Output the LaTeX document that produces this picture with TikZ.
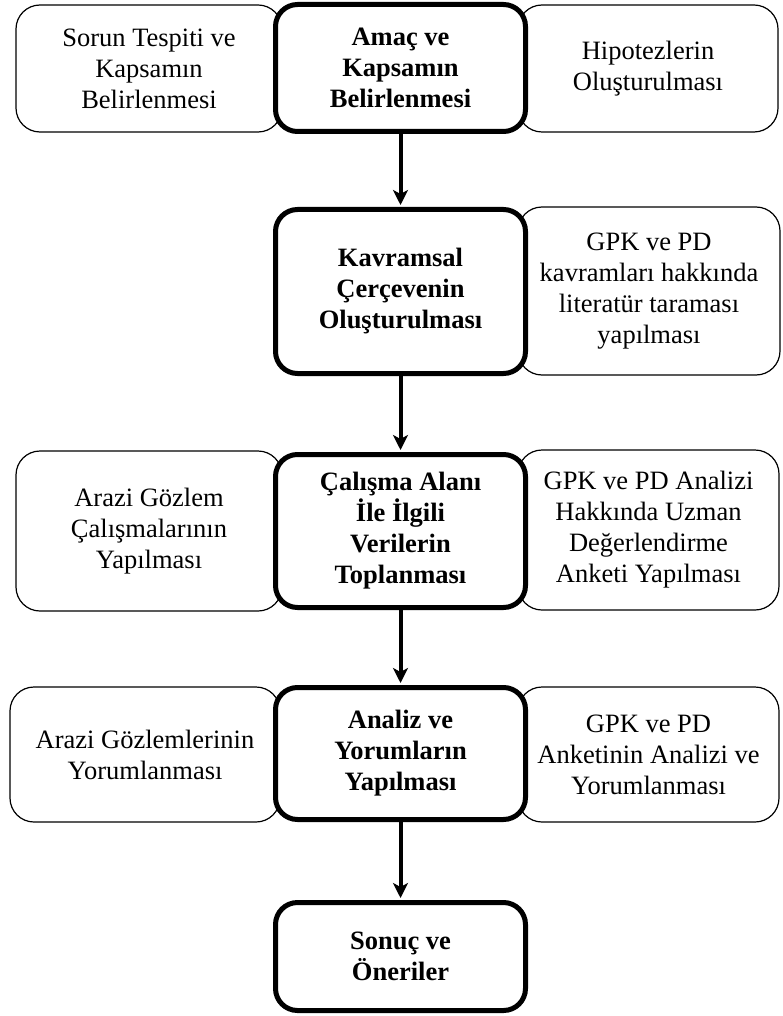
\documentclass[tikz,border=0pt]{standalone}
\usepackage{fontspec}
\setmainfont{Liberation Serif}
\usetikzlibrary{arrows.meta}

\begin{document}
\begin{tikzpicture}[x=0.5pt, y=-0.5pt,
    sidebox/.style={draw, line width=0.6pt, rounded corners=12pt, align=center, inner sep=0pt,
      font=\fontsize{13.25}{15.5}\selectfont},
    mainbox/.style={draw, line width=2.5pt, rounded corners=11pt, fill=white, align=center, inner sep=0pt,
      minimum width=125pt, font=\fontsize{13.25}{15.5}\selectfont\bfseries},
    flow/.style={-{Stealth[length=7.5pt, width=7.5pt, inset=2pt]}, line width=2pt, shorten >=1pt}]
  \useasboundingbox (0, 0) rectangle (782, 1016);

  \node[sidebox, minimum width=133pt, minimum height=63.5pt] (sorun) at (149, 68.5) {Sorun Tespiti ve\\Kapsamın\\Belirlenmesi};
  \node[sidebox, minimum width=130pt, minimum height=63.5pt] (hipotez) at (648, 68.5) {Hipotezlerin\\Oluşturulması};
  \node[sidebox, minimum width=131pt, minimum height=84pt] (literatur) at (649, 291) {GPK ve PD\\kavramları hakkında\\literatür taraması\\yapılması};
  \node[sidebox, minimum width=133pt, minimum height=80pt] (gozlem) at (149, 531) {Arazi Gözlem\\Çalışmalarının\\Yapılması};
  \node[sidebox, minimum width=130.5pt, minimum height=80pt] (anket) at (648.5, 530) {GPK ve PD Analizi\\Hakkında Uzman\\Değerlendirme\\Anketi Yapılması};
  \node[sidebox, minimum width=135pt, minimum height=67.5pt] (gozlemyorum) at (145, 754.5) {Arazi Gözlemlerinin\\Yorumlanması};
  \node[sidebox, minimum width=130.5pt, minimum height=67.5pt] (anketyorum) at (648.5, 754.5) {GPK ve PD\\Anketinin Analizi ve\\Yorumlanması};

  \node[mainbox, minimum height=63.5pt] (amac) at (400.5, 68) {Amaç ve\\Kapsamın\\Belirlenmesi};
  \node[mainbox, minimum height=82pt] (kavram) at (400.5, 291.5) {Kavramsal\\Çerçevenin\\Oluşturulması};
  \node[mainbox, minimum height=76.5pt] (veri) at (400.5, 531) {Çalışma Alanı\\İle İlgili\\Verilerin\\Toplanması};
  \node[mainbox, minimum height=66pt] (analiz) at (400.5, 753.5) {Analiz ve\\Yorumların\\Yapılması};
  \node[mainbox, minimum height=54pt] (sonuc) at (400.5, 956.5) {Sonuç ve\\Öneriler};

  \draw[flow] (amac) -- (kavram);
  \draw[flow] (kavram) -- (veri);
  \draw[flow] (veri) -- (analiz);
  \draw[flow] (analiz) -- (sonuc);
\end{tikzpicture}
\end{document}
